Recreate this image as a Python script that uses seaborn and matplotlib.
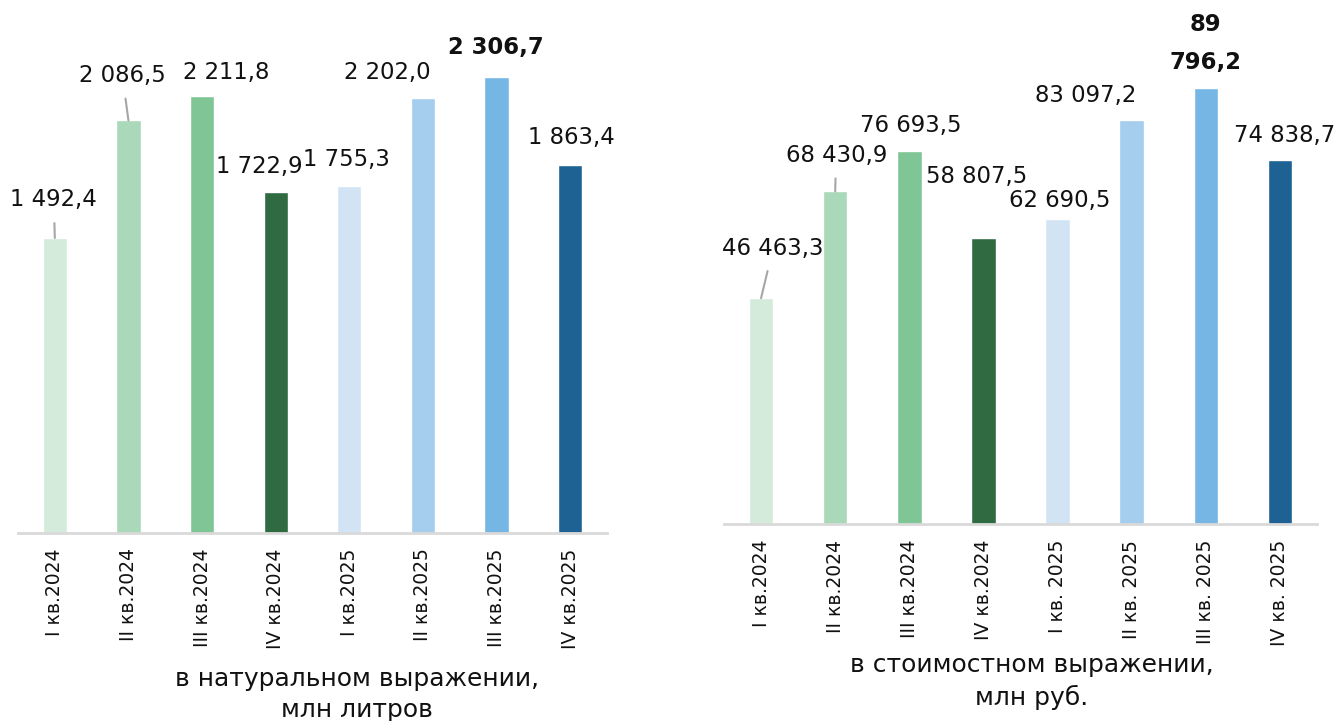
import matplotlib as mpl
mpl.use('Agg')
from matplotlib import pyplot as plt
import seaborn as sb

# data
quarters_vol = ["I кв.2024", "II кв.2024", "III кв.2024", "IV кв.2024",
                "I кв.2025", "II кв.2025", "III кв.2025", "IV кв.2025"]
quarters_val = ["I кв.2024", "II кв.2024", "III кв.2024", "IV кв.2024",
                "I кв. 2025", "II кв. 2025", "III кв. 2025", "IV кв. 2025"]
volume = [1492.4, 2086.5, 2211.8, 1722.9, 1755.3, 2202.0, 2306.7, 1863.4]
value = [46463.3, 68430.9, 76693.5, 58807.5, 62690.5, 83097.2, 89796.2, 74838.7]

colors = ['#d4ebdc', '#a9d9b8', '#80c595', '#2f6a41',
          '#d2e4f4', '#a4cdee', '#76b6e4', '#1e6294']

# label offsets (pixels) and leader lines, as placed in the original
off_vol = [(-1, 38), (-6, 45), (24, 23), (-16, 26), (-3, 26), (-36, 25), (-1, 29), (1, 27)]
off_val = [(12, 50), (1, 36), (1, 26), (-7, 62), (2, 19), (-46, 25), (0, 44), (5, 25)]
lead_vol = [True, True, False, False, False, False, False, False]
lead_val = [True, True, False, False, False, False, False, False]

sb.set_style("white")
plt.rcParams['font.family'] = ['DejaVu Sans']


def fmt(v):
    return "{:,.1f}".format(v).replace(",", " ").replace(".", ",")


def draw(ax, cats, vals, offs, leads, ytop, xlabel, lab_xy, tick_pad, split_max):
    sb.barplot(x=cats, y=vals, hue=cats, palette=colors, width=0.33,
               saturation=1, legend=False, ax=ax)
    ax.set_ylim(0, ytop)
    ax.set_xlim(-0.5, len(cats) - 0.5)
    for s in ['top', 'right', 'left']:
        ax.spines[s].set_visible(False)
    ax.spines['bottom'].set_color('#d9d9d9')
    ax.spines['bottom'].set_linewidth(2)
    ax.set_yticks([])
    ax.set_ylabel("")
    ax.tick_params(axis='x', length=0, pad=tick_pad, labelsize=13.5,
                   labelrotation=90, labelcolor='#111111')
    imax = vals.index(max(vals))
    for i, v in enumerate(vals):
        txt = fmt(v)
        bold = i == imax
        ls = 1.4
        if bold and split_max:
            txt = txt.replace(" ", "\n", 1)
            ls = 1.8
        arrow = None
        if leads[i]:
            arrow = dict(arrowstyle='-', color='#a6a6a6', lw=1.5, shrinkA=6, shrinkB=0)
        ax.annotate(txt, xy=(i, v), xytext=offs[i], textcoords='offset pixels',
                    ha='center', va='center', fontsize=16.4,
                    fontweight='bold' if bold else 'normal', color='#111111',
                    linespacing=ls, arrowprops=arrow, annotation_clip=False)
    ax.set_xlabel(xlabel, fontsize=18, linespacing=1.4, color='#111111')
    ax.xaxis.set_label_coords(*lab_xy)


fig = plt.figure(figsize=(13.36, 7.21), dpi=100)
ax1 = fig.add_axes([18 / 1336, (721 - 533) / 721, 589 / 1336, 533 / 721])
ax2 = fig.add_axes([724 / 1336, (721 - 524) / 721, 593 / 1336, 524 / 721])

draw(ax1, quarters_vol, volume, off_vol, lead_vol, 2696,
     "в натуральном выражении,\nмлн литров", (0.576, -0.251), 11, False)
draw(ax2, quarters_val, value, off_val, lead_val, 107800,
     "в стоимостном выражении,\nмлн руб.", (0.519, -0.246), 11.5, True)

fig.savefig('out.png', dpi=100)
